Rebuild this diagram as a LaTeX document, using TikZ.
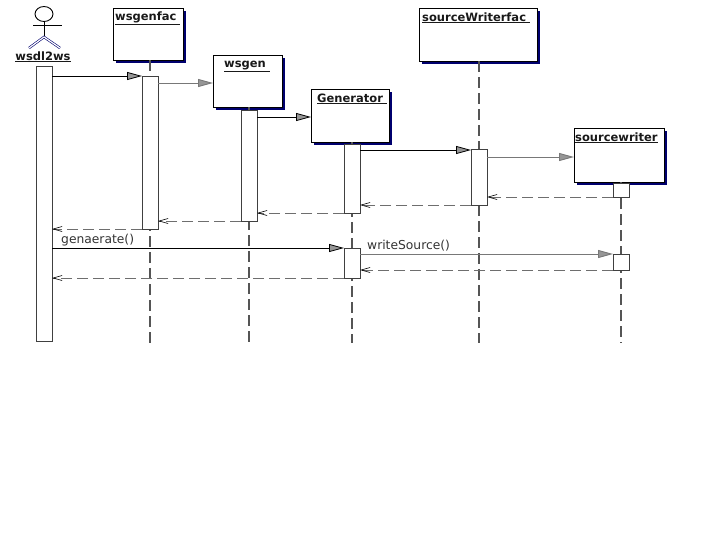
\documentclass[tikz,border=0pt]{standalone}
\usepackage{fontspec}
\setmainfont{DejaVu Sans}
\usetikzlibrary{arrows.meta,shadows,shapes.geometric}
\definecolor{navyshadow}{RGB}{0,0,110}
\definecolor{lifegray}{RGB}{85,85,85}
\definecolor{retgray}{RGB}{110,110,110}
\definecolor{callgray}{RGB}{120,120,120}
\definecolor{headfill}{RGB}{150,150,150}
\begin{document}
\begin{tikzpicture}[x=1pt,y=-1pt,
  objbox/.style={draw=black,line width=0.9pt,fill=white,inner sep=0pt,outer sep=0pt,anchor=north west,
    general shadow={fill=navyshadow,shadow xshift=3pt,shadow yshift=-3pt}},
  objlbl/.style={anchor=base west,inner sep=0pt,font=\fontsize{11.5}{13}\selectfont\bfseries,text=black!90},
  actbar/.style={draw=black!75,line width=0.9pt,fill=white,inner sep=0pt,outer sep=0pt,minimum width=16pt,anchor=north},
  lifeline/.style={draw=lifegray,line width=1.1pt,dash pattern=on 11pt off 5pt},
  callblack/.style={draw=black,line width=0.8pt,-{Triangle[length=15pt,width=8pt,fill=headfill]}},
  callgrey/.style={draw=callgray,line width=0.9pt,-{Triangle[length=15pt,width=8pt,fill=headfill]}},
  retmsg/.style={draw=retgray,line width=1pt,dash pattern=on 11pt off 5pt,-{Straight Barb[length=9pt,width=5pt,line width=0.6pt,black]}},
  msglbl/.style={anchor=base west,inner sep=0pt,font=\fontsize{12.3}{14}\selectfont,text=black!80},
  actor/.style={draw=black,line width=0.9pt}
]
\useasboundingbox (0,0) rectangle (715,557);

% actor wsdl2ws
\node[draw=black,line width=0.9pt,ellipse,minimum width=18pt,minimum height=15pt,inner sep=0pt] (head) at (44,14) {};
\coordinate (hip) at (44,37);
\coordinate (armL) at (33,25);
\coordinate (armR) at (62,25);
\coordinate (legL) at (29,48);
\coordinate (legR) at (60,48);
\draw[actor] (head.south) -- (hip);
\draw[actor] (armL) -- (armR);
\draw[draw=navyshadow,line width=0.6pt,double=white,double distance=1.2pt] (legL) -- (hip) -- (legR);
\node[anchor=base,inner sep=0pt,font=\fontsize{11.5}{13}\selectfont\bfseries,text=black!90] (lW) at (43,60) {\underline{wsdl2ws}};

% object boxes
\node[objbox,minimum width=70pt,minimum height=52pt] (bF) at (113,8) {};
\node[objbox,minimum width=69pt,minimum height=52pt] (bG) at (213,55) {};
\node[objbox,minimum width=78pt,minimum height=53pt] (bR) at (311,89) {};
\node[objbox,minimum width=118pt,minimum height=53pt] (bSF) at (419,8) {};
\node[objbox,minimum width=90pt,minimum height=54pt] (bS) at (574,128) {};

\node[objlbl] (lF) at (115,20.5) {\underline{wsgenfac\ }};
\node[objlbl] (lG) at (224,67) {\underline{wsgen\ }};
\node[objlbl] (lR) at (317,102) {\underline{Generator\ }};
\node[objlbl] (lSF) at (422,21) {\underline{sourceWriterfac\ }};
\node[objlbl] (lS) at (575,141) {\underline{sourcewriter}};

% lifeline ends
\coordinate (eF) at (150,343);
\coordinate (eG) at (249,343);
\coordinate (eR) at (352,343);
\coordinate (eSF) at (479,343);
\coordinate (eS) at (621,343);
\draw[lifeline] (bF.south -| eF) -- (eF);
\draw[lifeline] (bG.south -| eG) -- (eG);
\draw[lifeline] (bR.south -| eR) -- (eR);
\draw[lifeline] (bSF.south -| eSF) -- (eSF);
\draw[lifeline] (bS.south -| eS) -- (eS);

% activation bars
\node[actbar,minimum height=275pt] (aW) at (44,66) {};
\node[actbar,minimum height=153pt] (aF) at (150,76) {};
\node[actbar,minimum height=111pt] (aG) at (249,110) {};
\node[actbar,minimum height=69pt] (aR1) at (352,144) {};
\node[actbar,minimum height=30pt] (aR2) at (352,248) {};
\node[actbar,minimum height=56pt] (aSF) at (479,149) {};
\node[actbar,minimum height=14pt] (aS1) at (621,183) {};
\node[actbar,minimum height=16pt] (aS2) at (621,254) {};

% message heights
\coordinate (y1) at (0,76);
\coordinate (y2) at (0,83);
\coordinate (y3) at (0,117);
\coordinate (y4) at (0,150);
\coordinate (y5) at (0,157);
\coordinate (y11) at (0,248);
\coordinate (y12) at (0,254);
\coordinate (y13) at (0,270);

% calls
\draw[callblack] (aW.east |- y1) -- (aF.west |- y1);
\draw[callgrey] (aF.east |- y2) -- (bG.west |- y2);
\draw[callblack] (aG.east |- y3) -- (bR.west |- y3);
\draw[callblack] (aR1.east |- y4) -- (aSF.west |- y4);
\draw[callgrey] (aSF.east |- y5) -- (bS.west |- y5);
\draw[callblack] (aW.east |- y11) -- (aR2.north west);
\draw[callgrey] (aR2.east |- y12) -- (aS2.north west);

% returns
\draw[retmsg] (aS1.south west) -- (aSF.east |- aS1.south);
\draw[retmsg] (aSF.south west) -- (aR1.east |- aSF.south);
\draw[retmsg] (aR1.south west) -- (aG.east |- aR1.south);
\draw[retmsg] (aG.south west) -- (aF.east |- aG.south);
\draw[retmsg] (aF.south west) -- (aW.east |- aF.south);
\draw[retmsg] (aS2.west |- y13) -- (aR2.east |- y13);
\draw[retmsg] (aR2.south west) -- (aW.east |- aR2.south);

% message labels
\node[msglbl] (tGen) at (61,243) {genaerate()};
\node[msglbl] (tWS) at (367,249) {writeSource()};
\end{tikzpicture}
\end{document}
